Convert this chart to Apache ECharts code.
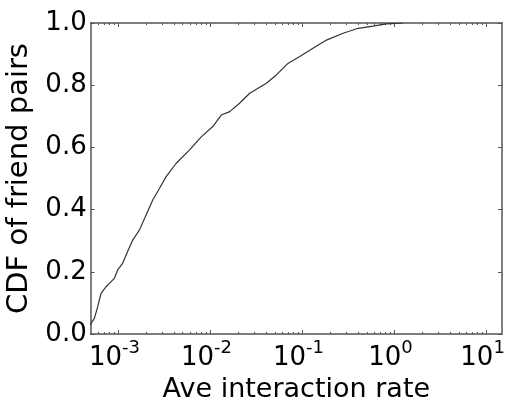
<!DOCTYPE html>
<html>
<head>
<meta charset="utf-8">
<script src="https://cdn.jsdelivr.net/npm/echarts@6/dist/echarts.min.js"></script>
<style>html,body{margin:0;padding:0;background:#fff}#c{width:505px;height:401px}</style>
</head>
<body>
<div id="c"></div>
<script>
// Average interaction rate (x) and CDF of friend pairs (y)
const rates = [4.92e-4, 5.48e-4, 5.96e-4, 6.48e-4, 7.35e-4, 7.98e-4, 9.04e-4, 9.82e-4,
  1.11e-3, 1.26e-3, 1.43e-3, 1.69e-3, 2.00e-3, 2.36e-3, 2.79e-3, 3.30e-3, 4.25e-3,
  5.93e-3, 7.94e-3, 1.06e-2, 1.31e-2, 1.62e-2, 2.07e-2, 2.67e-2, 4.05e-2, 5.20e-2,
  6.95e-2, 9.33e-2, 0.130, 0.182, 0.276, 0.402, 0.585, 0.818, 1.24];
const cdf = [0.029, 0.050, 0.088, 0.131, 0.152, 0.163, 0.179, 0.206,
  0.227, 0.265, 0.302, 0.334, 0.383, 0.431, 0.468, 0.506, 0.549,
  0.592, 0.634, 0.667, 0.704, 0.715, 0.742, 0.774, 0.806, 0.833,
  0.870, 0.892, 0.919, 0.945, 0.967, 0.983, 0.990, 0.997, 1.0];
const xMajorTicks = [0.001, 0.01, 0.1, 1, 10];
const yTicks = [0, 0.2, 0.4, 0.6, 0.8, 1.0];
const xTitle = 'Ave interaction rate';
const yTitle = 'CDF of friend pairs';

const X_MIN = 0.0005, X_MAX = 14.7;
const xMinorTicks = [];
for (let d = -4; d <= 1; d++) {
  for (let k = 2; k <= 9; k++) {
    const v = k * Math.pow(10, d);
    if (v > X_MIN && v < X_MAX) xMinorTicks.push(v);
  }
}
const FONT = 'DejaVu Sans';
const frame = { show: true, onZero: false, lineStyle: { color: '#555', width: 1.5 } };

function xAxisBase(pos, ticks, len, showLine) {
  return {
    type: 'log', logBase: 10, min: X_MIN, max: X_MAX, position: pos,
    axisLine: showLine ? frame : { show: false, onZero: false },
    axisTick: { show: true, inside: true, length: len, customValues: ticks,
      lineStyle: { color: '#555', width: 1 } },
    axisLabel: { show: false },
    splitLine: { show: false }, minorTick: { show: false }
  };
}

const chart = echarts.init(document.getElementById('c'), null, { renderer: 'canvas' });
const bottom = xAxisBase('bottom', xMajorTicks, 4, true);
bottom.axisLabel = {
  show: true, customValues: xMajorTicks, margin: 5, padding: [0, 8, 0, 0],
  formatter: function (v) {
    const e = Math.round(Math.log10(v));
    return '{b|10}{s|' + (e < 0 ? '-' + (-e) : e) + '}';
  },
  rich: {
    b: { fontFamily: FONT, fontSize: 26, color: '#000', lineHeight: 32, verticalAlign: 'bottom' },
    s: { fontFamily: FONT, fontSize: 18, color: '#000', lineHeight: 32, verticalAlign: 'top' }
  }
};
bottom.name = xTitle;
bottom.nameLocation = 'middle';
bottom.nameGap = 42;
bottom.nameTextStyle = { fontFamily: FONT, fontSize: 27, color: '#000' };

chart.setOption({
  animation: false,
  backgroundColor: '#fff',
  grid: { left: 90.7, right: 3, top: 23, bottom: 67, containLabel: false, outerBoundsMode: 'none' },
  xAxis: [
    bottom,
    xAxisBase('top', xMajorTicks, 4, true),
    xAxisBase('bottom', xMinorTicks, 2, false),
    xAxisBase('top', xMinorTicks, 2, false)
  ],
  yAxis: [
    {
      type: 'value', min: 0, max: 1, interval: 0.2, position: 'left',
      axisLine: frame,
      axisTick: { show: true, inside: true, length: 4, lineStyle: { color: '#555' } },
      axisLabel: { show: true, margin: 4, fontFamily: FONT, fontSize: 26, color: '#000',
        formatter: v => v.toFixed(1) },
      splitLine: { show: false },
      name: yTitle, nameLocation: 'middle', nameGap: 53,
      nameTextStyle: { fontFamily: FONT, fontSize: 29, color: '#000' }
    },
    {
      type: 'value', min: 0, max: 1, interval: 0.2, position: 'right',
      axisLine: frame,
      axisTick: { show: true, inside: true, length: 4, lineStyle: { color: '#555' } },
      axisLabel: { show: false }, splitLine: { show: false }
    }
  ],
  series: [{
    type: 'line', xAxisIndex: 0, yAxisIndex: 0,
    data: rates.map((r, i) => [r, cdf[i]]),
    showSymbol: false, symbol: 'none',
    lineStyle: { color: '#333', width: 1.2 },
    silent: true
  }]
});
</script>
</body>
</html>
